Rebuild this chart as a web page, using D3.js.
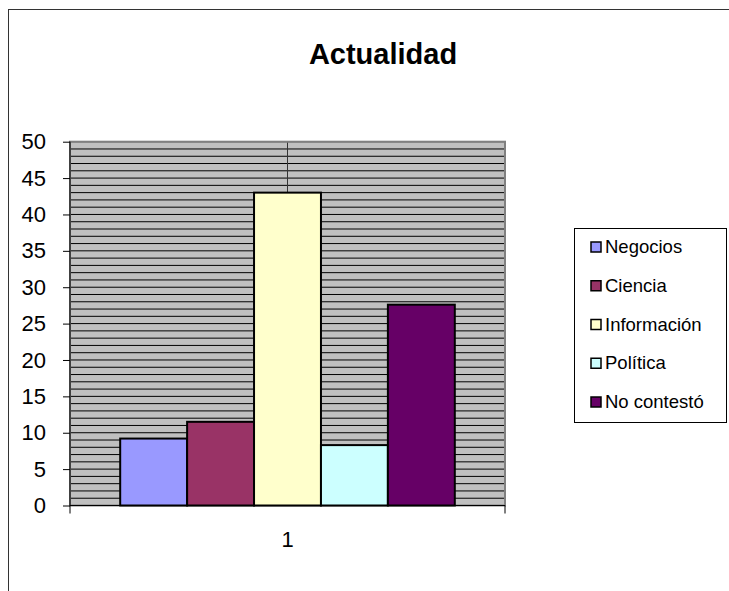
<!DOCTYPE html>
<html>
<head>
<meta charset="utf-8">
<script src="https://cdn.jsdelivr.net/npm/d3@7"></script>
<style>
  html, body { margin: 0; padding: 0; background: #fff; }
  svg { display: block; font-family: Arial, "Liberation Sans", sans-serif; }
</style>
</head>
<body>
<svg id="chart" width="729" height="591"></svg>
<script>
// ---- data ----
const categories = ["1"];
const seriesNames = ["Negocios", "Ciencia", "Información", "Política", "No contestó"];
const seriesValues = [9.2, 11.5, 43.0, 8.3, 27.6];
const seriesColors = ["#9999FF", "#993366", "#FFFFCC", "#CCFFFF", "#660066"];
const yTicks = [0, 5, 10, 15, 20, 25, 30, 35, 40, 45, 50];
const title = "Actualidad";

// ---- layout ----
const svg = d3.select("#chart");
const plot = { left: 70, right: 505, top: 141.7, bottom: 505.5 };

// chart area border
svg.append("rect")
  .attr("x", 8.5).attr("y", 9.5)
  .attr("width", 740).attr("height", 600)
  .attr("fill", "#fff").attr("stroke", "#333").attr("stroke-width", 1);

// title
svg.append("text")
  .attr("x", 383).attr("y", 63.5)
  .attr("text-anchor", "middle")
  .attr("font-size", 29).attr("font-weight", "bold")
  .text(title);

const y = d3.scaleLinear().domain([0, 50]).range([plot.bottom, plot.top]);
const x0 = d3.scaleBand().domain(categories).range([plot.left, plot.right])
  .paddingInner(0).paddingOuter(0.15);
const x1 = d3.scaleBand().domain(seriesNames).range([0, x0.bandwidth()]).padding(0);

// plot background
svg.append("rect")
  .attr("x", plot.left).attr("y", plot.top)
  .attr("width", plot.right - plot.left).attr("height", plot.bottom - plot.top)
  .attr("fill", "#C0C0C0");

// horizontal gridlines every 1 unit
const gridVals = d3.range(1, 51);
svg.append("g").selectAll("line").data(gridVals).join("line")
  .attr("x1", plot.left).attr("x2", plot.right)
  .attr("y1", d => y(d)).attr("y2", d => y(d))
  .attr("stroke", "#000").attr("stroke-width", 1);

// vertical gridline at category centre
svg.append("line")
  .attr("x1", x0("1") + x0.bandwidth() / 2).attr("x2", x0("1") + x0.bandwidth() / 2)
  .attr("y1", plot.top).attr("y2", plot.bottom)
  .attr("stroke", "#333").attr("stroke-width", 1);

// plot border
svg.append("rect")
  .attr("x", plot.left).attr("y", plot.top)
  .attr("width", plot.right - plot.left).attr("height", plot.bottom - plot.top)
  .attr("fill", "none").attr("stroke", "#808080").attr("stroke-width", 2);

// bars
const data = seriesNames.map((n, i) => ({ name: n, value: seriesValues[i], color: seriesColors[i] }));
svg.append("g").selectAll("rect").data(data).join("rect")
  .attr("x", d => x0("1") + x1(d.name))
  .attr("y", d => y(d.value))
  .attr("width", x1.bandwidth())
  .attr("height", d => y(0) - y(d.value))
  .attr("fill", d => d.color)
  .attr("stroke", "#000").attr("stroke-width", 2);

// y axis
const yAxis = d3.axisLeft(y).tickValues(yTicks).tickSize(7).tickPadding(17);
const gy = svg.append("g").attr("transform", `translate(${plot.left},0)`).call(yAxis);
gy.select(".domain").attr("stroke", "#000").attr("d", `M0,${plot.top}V${plot.bottom}`);
gy.selectAll(".tick line").attr("stroke", "#000");
gy.selectAll(".tick text").attr("font-size", 22).attr("fill", "#000")
  .attr("font-family", "Arial, 'Liberation Sans', sans-serif");

// x axis
const xAxis = d3.axisBottom(x0).tickSize(0).tickPadding(26);
const gx = svg.append("g").attr("transform", `translate(0,${plot.bottom})`).call(xAxis);
gx.select(".domain").attr("stroke", "#000").attr("d", `M${plot.left},0H${plot.right}`);
gx.selectAll(".tick text").attr("font-size", 22).attr("fill", "#000")
  .attr("font-family", "Arial, 'Liberation Sans', sans-serif");
// category boundary ticks
gx.selectAll(".edge").data([plot.left, plot.right]).join("line")
  .attr("class", "edge")
  .attr("x1", d => d).attr("x2", d => d).attr("y1", 0).attr("y2", 8)
  .attr("stroke", "#000");

// legend
const lg = { x: 574.5, y: 228.5, w: 152, h: 194 };
svg.append("rect")
  .attr("x", lg.x).attr("y", lg.y).attr("width", lg.w).attr("height", lg.h)
  .attr("fill", "#fff").attr("stroke", "#000").attr("stroke-width", 1);
const rowY = d3.scalePoint().domain(seriesNames).range([242, 397]);
const items = svg.append("g").selectAll("g").data(data).join("g")
  .attr("transform", d => `translate(0,${rowY(d.name)})`);
items.append("rect")
  .attr("x", 591).attr("y", 0).attr("width", 10).attr("height", 10)
  .attr("fill", d => d.color).attr("stroke", "#000").attr("stroke-width", 1.5);
items.append("text")
  .attr("x", 605).attr("y", 11)
  .attr("font-size", 18.5).attr("fill", "#000")
  .text(d => d.name);
</script>
</body>
</html>
